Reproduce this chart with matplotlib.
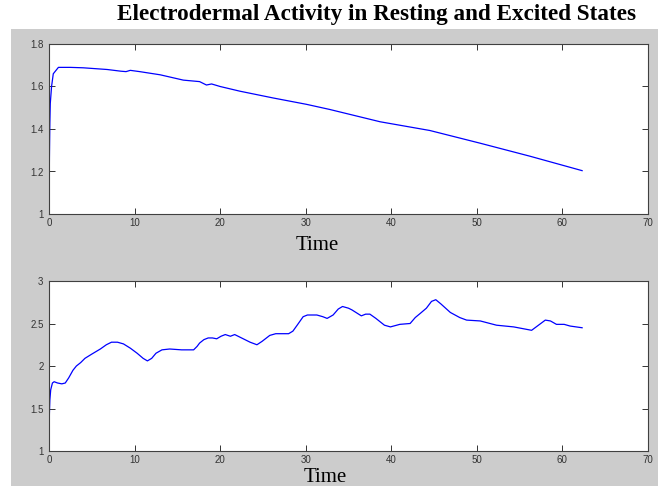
import matplotlib.pyplot as plt
from matplotlib.patches import Rectangle

# resting state
rest_t = [0, 0.05, 0.1, 0.15, 0.3, 0.5, 1.1, 2.5, 4, 6.8, 8.4, 9.0, 9.5, 10.6, 13, 15.7,
          17.6, 18.4, 19, 20, 22.3, 26.2, 30.1, 32.8, 38.7, 44.5, 50.4, 56.2, 62.3]
rest_eda = [1.0, 1.27, 1.43, 1.52, 1.60, 1.66, 1.690, 1.690, 1.688, 1.680, 1.672, 1.670,
            1.676, 1.670, 1.655, 1.630, 1.623, 1.607, 1.612, 1.600, 1.578, 1.546, 1.516,
            1.492, 1.434, 1.393, 1.333, 1.272, 1.204]

# excited state
exc_t = [0, 0.05, 0.1, 0.2, 0.4, 0.6, 1.0, 1.5, 1.9, 2.3,
         2.8, 3.2, 3.7, 4.2, 5.0, 6.0, 6.7, 7.3, 8.0, 8.7,
         9.5, 10.3, 11.0, 11.5, 12.0, 12.5, 13.2, 14.1, 15.5, 16.9,
         17.3, 17.6, 18.1, 18.6, 19.1, 19.6, 20.1, 20.6, 21.2, 21.7,
         22.5, 23.5, 24.3, 24.9, 25.8, 26.5, 28.0, 28.5, 29.0, 29.7,
         30.2, 31.3, 32.0, 32.5, 33.2, 33.8, 34.3, 35.0, 35.4, 36.5,
         37.0, 37.5, 38.2, 39.2, 39.9, 41.0, 42.2, 42.8, 43.4, 44.1,
         44.7, 45.2, 45.8, 46.9, 48.0, 48.8, 50.4, 52.3, 54.3, 56.4,
         57.2, 58.0, 58.6, 59.3, 60.2, 60.9, 62.3]
exc_eda = [1.2, 1.45, 1.6, 1.72, 1.80, 1.815, 1.80, 1.79, 1.80, 1.86,
           1.95, 2.00, 2.04, 2.09, 2.14, 2.20, 2.25, 2.28, 2.28, 2.26,
           2.21, 2.15, 2.09, 2.06, 2.09, 2.15, 2.19, 2.20, 2.19, 2.19,
           2.23, 2.27, 2.31, 2.33, 2.33, 2.32, 2.35, 2.37, 2.35, 2.37,
           2.33, 2.28, 2.25, 2.29, 2.36, 2.38, 2.38, 2.41, 2.48, 2.58,
           2.60, 2.60, 2.58, 2.56, 2.60, 2.67, 2.70, 2.68, 2.66, 2.59,
           2.61, 2.61, 2.56, 2.48, 2.46, 2.49, 2.50, 2.57, 2.62, 2.68,
           2.76, 2.78, 2.73, 2.63, 2.57, 2.54, 2.53, 2.48, 2.46, 2.42,
           2.48, 2.54, 2.53, 2.49, 2.49, 2.47, 2.45]

x_ticks = [0, 10, 20, 30, 40, 50, 60, 70]
rest_yticks = [1, 1.2, 1.4, 1.6, 1.8]
exc_yticks = [1, 1.5, 2, 2.5, 3]

W, H = 662, 486
fig = plt.figure(figsize=(W / 100, H / 100), dpi=100)
fig.patch.set_facecolor('white')

# grey matlab-style panel
fig.patches.append(Rectangle((11 / W, 0), 647 / W, (H - 29) / H,
                             transform=fig.transFigure, facecolor='#cccccc',
                             edgecolor='none', zorder=-5))

fig.text(377 / W, 1 - 20 / H, 'Electrodermal Activity in Resting and Excited States',
         ha='center', va='baseline', family='Liberation Serif', weight='bold', fontsize=16.7)


def make_axes(top_px, t, y, yticks, ylim, label_x, label_base):
    ax = fig.add_axes([49 / W, 1 - (top_px + 170) / H, 599 / W, 170 / H])
    ax.set_facecolor('white')
    ax.plot(t, y, color='#0000ff', lw=0.9)
    ax.set_xlim(0, 70)
    ax.set_ylim(*ylim)
    ax.set_xticks(x_ticks)
    ax.set_yticks(yticks)
    ax.set_yticklabels([f'{v:g}' for v in yticks])
    ax.tick_params(direction='in', length=4, width=0.7, top=True, right=True,
                   labelsize=7, colors='#333333', pad=3, labelfontfamily='Liberation Sans')
    ax.tick_params(axis='y', pad=4)
    for s in ax.spines.values():
        s.set_color('#404040')
        s.set_linewidth(0.8)
    fig.text(label_x / W, 1 - label_base / H, 'Time', ha='center', va='baseline',
             family='Liberation Serif', fontsize=15)
    return ax


make_axes(44, rest_t, rest_eda, rest_yticks, (1, 1.8), 317, 250)
make_axes(281, exc_t, exc_eda, exc_yticks, (1, 3), 325, 482)

fig.savefig('out.png', dpi=100)
